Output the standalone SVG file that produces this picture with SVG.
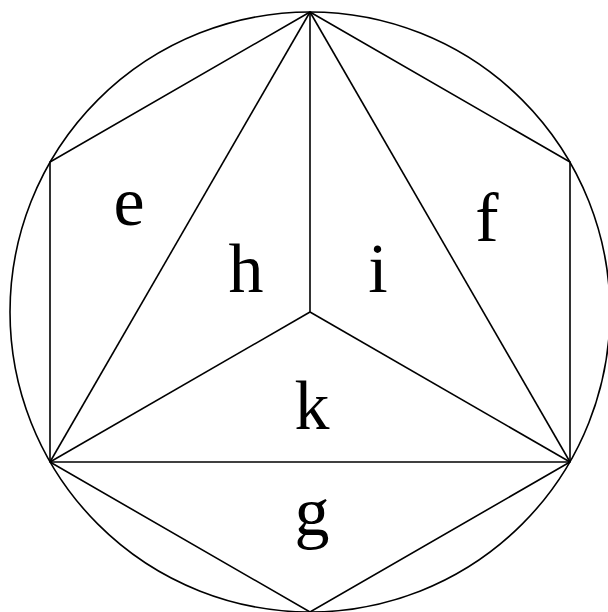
<svg xmlns="http://www.w3.org/2000/svg" width="608" height="612" viewBox="0 0 608 612">
<style>
.ln{stroke:#000;stroke-width:1.6;fill:none}
.lb{font-family:"Liberation Serif","Times New Roman",serif;font-size:70px;fill:#000;text-anchor:middle}
</style>
<rect width="608" height="612" fill="#fff"/>
<g id="connectors">
<circle class="ln" cx="310" cy="312" r="300"/>
<polygon class="ln" points="310,12 570,162 570,462 310,612 50,462 50,162"/>
<line class="ln" x1="310" y1="12" x2="50" y2="462"/>
<line class="ln" x1="310" y1="12" x2="570" y2="462"/>
<line class="ln" x1="310" y1="12" x2="310" y2="312"/>
<line class="ln" x1="310" y1="312" x2="50" y2="462"/>
<line class="ln" x1="310" y1="312" x2="570" y2="462"/>
<line class="ln" x1="50" y1="462" x2="570" y2="462"/>
</g>
<g id="e"><text class="lb" x="129" y="225">e</text></g>
<g id="h"><text class="lb" x="246" y="292">h</text></g>
<g id="i"><text class="lb" x="378" y="292">i</text></g>
<g id="f"><text class="lb" x="487" y="241">f</text></g>
<g id="k"><text class="lb" x="312" y="429">k</text></g>
<g id="g"><text class="lb" x="312" y="535">g</text></g>
</svg>
